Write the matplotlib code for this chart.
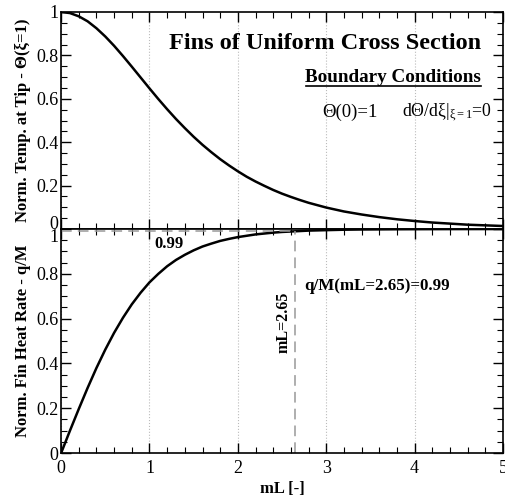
import matplotlib.pyplot as plt
from matplotlib.ticker import MultipleLocator

plt.rcParams['font.family'] = ['Liberation Serif', 'DejaVu Serif']
plt.rcParams['mathtext.fontset'] = 'custom'
plt.rcParams['mathtext.rm'] = 'Liberation Serif'
plt.rcParams['mathtext.it'] = 'Liberation Serif:italic'
plt.rcParams['mathtext.bf'] = 'Liberation Serif:bold'

# mL values
mL = [0.0, 0.1, 0.2, 0.3, 0.4, 0.5, 0.6, 0.7, 0.8, 0.9,
      1.0, 1.1, 1.2, 1.3, 1.4, 1.5, 1.6, 1.7, 1.8, 1.9,
      2.0, 2.1, 2.2, 2.3, 2.4, 2.5, 2.6, 2.7, 2.8, 2.9,
      3.0, 3.2, 3.4, 3.6, 3.8, 4.0, 4.2, 4.4, 4.6, 4.8, 5.0]
# tip temperature
theta_tip = [1.000, 0.995, 0.980, 0.957, 0.925, 0.887, 0.844, 0.797, 0.748, 0.698,
             0.648, 0.599, 0.552, 0.507, 0.465, 0.425, 0.388, 0.354, 0.322, 0.293,
             0.266, 0.241, 0.219, 0.199, 0.180, 0.163, 0.148, 0.134, 0.121, 0.110,
             0.099, 0.081, 0.067, 0.055, 0.045, 0.037, 0.030, 0.025, 0.020, 0.017, 0.014]
# fin heat rate
q_M = [0.000, 0.100, 0.197, 0.291, 0.380, 0.462, 0.537, 0.604, 0.664, 0.716,
       0.762, 0.800, 0.834, 0.862, 0.885, 0.905, 0.922, 0.935, 0.947, 0.956,
       0.964, 0.970, 0.976, 0.980, 0.984, 0.987, 0.989, 0.991, 0.993, 0.994,
       0.995, 0.997, 0.998, 0.9985, 0.999, 0.9993, 0.9995, 0.9997, 0.9998, 0.9999, 0.9999]

mL_99 = 2.65
q_99 = 0.99

fig = plt.figure(figsize=(5.05, 4.99), dpi=100)
ax1 = fig.add_axes([0.121, 0.541, 0.875, 0.435])
ax2 = fig.add_axes([0.121, 0.092, 0.875, 0.449], sharex=ax1)

for ax in (ax1, ax2):
    ax.set_xlim(0, 5)
    ax.set_ylim(0, 1)
    ax.xaxis.set_major_locator(MultipleLocator(1))
    ax.xaxis.set_minor_locator(MultipleLocator(0.2))
    ax.yaxis.set_major_locator(MultipleLocator(0.2))
    ax.yaxis.set_minor_locator(MultipleLocator(0.05))
    ax.tick_params(which='both', direction='in', top=True, right=True,
                   labelsize=13, pad=2)
    ax.tick_params(which='major', length=7, width=1)
    ax.tick_params(which='minor', length=4, width=0.8)
    ax.grid(axis='x', which='major', color='#bbbbbb', ls=':', lw=0.8)
    for s in ax.spines.values():
        s.set_linewidth(1.2)
    ax.set_yticks([0, 0.2, 0.4, 0.6, 0.8, 1.0])
    ax.set_yticklabels(['0', '0.2', '0.4', '0.6', '0.8', '1'])

ax1.tick_params(labelbottom=False)
ax1.get_yticklabels()[0].set_va('baseline')
ax2.get_yticklabels()[-1].set_va('top')
ax2.set_xticks([0, 1, 2, 3, 4, 5])
ax2.set_xticklabels(['0', '1', '2', '3', '4', '5'])
ax2.tick_params(axis='x', pad=5)

ax1.plot(mL, theta_tip, color='black', lw=1.8)
ax2.plot(mL, q_M, color='black', lw=1.8)

# 99% marker lines
ax2.plot([0, mL_99], [q_99, q_99], color='#999999', lw=1.1, dashes=(7, 4))
ax2.plot([mL_99, mL_99], [0, q_99], color='#999999', lw=1.1, dashes=(7, 4))

ax1.set_ylabel('Norm. Temp. at Tip - Θ(ξ=1)', fontsize=12, fontweight='bold', labelpad=4)
ax2.set_ylabel('Norm. Fin Heat Rate - q/M', fontsize=12, fontweight='bold', labelpad=4)
ax2.set_xlabel('mL [-]', fontsize=12, fontweight='bold', labelpad=3)

ax1.text(4.75, 0.857, 'Fins of Uniform Cross Section', fontsize=17.5,
         fontweight='bold', ha='right', va='center')
ax1.text(4.75, 0.70, 'Boundary Conditions', fontsize=13.8,
         fontweight='bold', ha='right', va='center')
ax1.plot([2.77, 4.75], [0.659, 0.659], color='black', lw=1.2)
ax1.text(2.96, 0.539, 'Θ(0)=1', fontsize=13.5, ha='left', va='center')
ax1.text(3.86, 0.539, r'd$\mathrm{\Theta}$/d$\mathrm{\xi}|_{\mathrm{\xi=1}}$=0',
         fontsize=12.8, ha='left', va='center')

ax2.text(1.22, 0.935, '0.99', fontsize=12, fontweight='bold', ha='center', va='center')
ax2.text(2.75, 0.748, 'q/M(mL=2.65)=0.99', fontsize=12.2, fontweight='bold',
         ha='left', va='center')
ax2.text(2.52, 0.583, 'mL=2.65', fontsize=11.5, fontweight='bold', rotation=90,
         ha='center', va='center')

fig.savefig('out.png', dpi=100)
